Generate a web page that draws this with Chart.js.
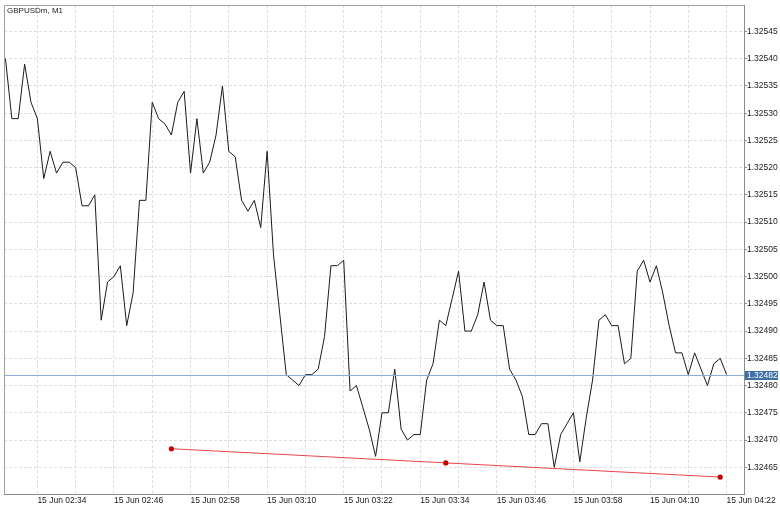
<!DOCTYPE html>
<html>
<head>
<meta charset="utf-8">
<title>GBPUSDm, M1</title>
<script src="https://cdn.jsdelivr.net/npm/chart.js@4.4.1/dist/chart.umd.min.js"></script>
<style>
  html, body { margin: 0; padding: 0; background: #fff; }
  #wrap { position: relative; width: 780px; height: 506px; }
</style>
</head>
<body>
<div id="wrap"><canvas id="chart"></canvas></div>
<script>
// GBPUSDm M1 closes, one per minute starting 15 Jun 02:29
const closes = [
  1.32540, 1.32529, 1.32529, 1.32539, 1.32532, 1.32529, 1.32518, 1.32523, 1.32519, 1.32521,
  1.32521, 1.32520, 1.32513, 1.32513, 1.32515, 1.32492, 1.32499, 1.32500, 1.32502, 1.32491,
  1.32497, 1.32514, 1.32514, 1.32532, 1.32529, 1.32528, 1.32526, 1.32532, 1.32534, 1.32519,
  1.32529, 1.32519, 1.32521, 1.32526, 1.32535, 1.32523, 1.32522, 1.32514, 1.32512, 1.32514,
  1.32509, 1.32523, 1.32504, 1.32493, 1.32482, 1.32481, 1.32480, 1.32482, 1.32482, 1.32483,
  1.32489, 1.32502, 1.32502, 1.32503, 1.32479, 1.32480, 1.32476, 1.32472, 1.32467, 1.32475,
  1.32475, 1.32483, 1.32472, 1.32470, 1.32471, 1.32471, 1.32481, 1.32484, 1.32492, 1.32491,
  1.32496, 1.32501, 1.32490, 1.32490, 1.32493, 1.32499, 1.32492, 1.32491, 1.32491, 1.32483,
  1.32481, 1.32478, 1.32471, 1.32471, 1.32473, 1.32473, 1.32465, 1.32471, 1.32473, 1.32475,
  1.32466, 1.32474, 1.32481, 1.32492, 1.32493, 1.32491, 1.32491, 1.32484, 1.32485, 1.32501,
  1.32503, 1.32499, 1.32502, 1.32497, 1.32491, 1.32486, 1.32486, 1.32482, 1.32486, 1.32483,
  1.32480, 1.32484, 1.32485, 1.32482
];

// trend line drawn over the lows (bar index, price)
const trendBars = [26, 69, 112];
const trendPrices = [1.324684, 1.324658, 1.324632];

const xTickBars = [5, 17, 29, 41, 53, 65, 77, 89, 101, 113];
const xTickLabels = ['15 Jun 02:34', '15 Jun 02:46', '15 Jun 02:58', '15 Jun 03:10', '15 Jun 03:22',
                     '15 Jun 03:34', '15 Jun 03:46', '15 Jun 03:58', '15 Jun 04:10', '15 Jun 04:22'];
const yTickValues = [1.32465, 1.32470, 1.32475, 1.32480, 1.32485, 1.32490, 1.32495, 1.32500,
                     1.32505, 1.32510, 1.32515, 1.32520, 1.32525, 1.32530, 1.32535, 1.32540, 1.32545];

const symbolTitle = 'GBPUSDm, M1';
const lastPrice = closes[closes.length - 1];

const fontFamily = '"Liberation Sans", Arial, sans-serif';

// horizontal current price line, price tag, frame and symbol caption
const overlay = {
    id: 'overlay',
    afterDatasetsDraw(chart) {
        const ctx = chart.ctx;
        const area = chart.chartArea;
        const y = Math.round(chart.scales.y.getPixelForValue(lastPrice)) + 0.5;
        ctx.save();
        ctx.strokeStyle = '#8eacd4';
        ctx.lineWidth = 1;
        ctx.beginPath();
        ctx.moveTo(area.left, y);
        ctx.lineTo(area.right, y);
        ctx.stroke();
        ctx.restore();
    },
    afterDraw(chart) {
        const ctx = chart.ctx;
        const area = chart.chartArea;
        const y = Math.round(chart.scales.y.getPixelForValue(lastPrice));
        ctx.save();
        // frame
        ctx.strokeStyle = '#a0a0a0';
        ctx.lineWidth = 1;
        ctx.beginPath();
        ctx.moveTo(Math.round(area.left) + 0.5, area.bottom);
        ctx.lineTo(Math.round(area.left) + 0.5, Math.round(area.top) + 0.5);
        ctx.lineTo(area.right, Math.round(area.top) + 0.5);
        ctx.stroke();
        // price tag
        ctx.fillStyle = '#3b6fa6';
        ctx.fillRect(area.right + 1, y - 4, 33, 9);
        ctx.fillStyle = '#ffffff';
        ctx.font = '8.5px ' + fontFamily;
        ctx.textBaseline = 'middle';
        ctx.textAlign = 'left';
        ctx.fillText(lastPrice.toFixed(5), area.right + 3, y + 0.5);
        // caption
        ctx.fillStyle = '#222';
        ctx.font = '8px ' + fontFamily;
        ctx.fillText(symbolTitle, area.left + 3, area.top + 6);
        ctx.restore();
    }
};

const ctx = document.getElementById('chart').getContext('2d');
new Chart(ctx, {
    type: 'line',
    data: {
        datasets: [
            {
                label: symbolTitle,
                data: closes.map((c, i) => ({ x: i, y: c })),
                borderColor: '#1a1a1a',
                borderWidth: 1,
                pointRadius: 0,
                tension: 0,
                fill: false
            },
            {
                label: 'trend',
                data: trendBars.map((b, i) => ({ x: b, y: trendPrices[i] })),
                borderColor: '#e8454a',
                borderWidth: 1,
                pointRadius: 2.6,
                pointBackgroundColor: '#c80000',
                pointBorderColor: '#c80000',
                pointBorderWidth: 0,
                tension: 0,
                fill: false
            }
        ]
    },
    options: {
        responsive: true,
        maintainAspectRatio: false,
        animation: false,
        events: [],
        layout: { padding: { left: 3, top: 3, right: 0, bottom: 0 } },
        plugins: {
            legend: { display: false },
            tooltip: { enabled: false },
            title: { display: false }
        },
        scales: {
            x: {
                type: 'linear',
                bounds: 'data',
                min: -0.23,
                max: 115.73,
                afterBuildTicks(scale) {
                    const ticks = [];
                    for (let b = 5; b <= 113; b += 6) ticks.push({ value: b });
                    scale.ticks = ticks;
                },
                afterFit(scale) {
                    scale.height = 11.5;
                    scale.paddingLeft = 0;
                    scale.paddingRight = 0;
                },
                grid: {
                    color: '#dedede',
                    drawTicks: false,
                    lineWidth: 1
                },
                border: { color: '#8c8c8c', dash: [3, 2] },
                ticks: {
                    autoSkip: false,
                    maxRotation: 0,
                    minRotation: 0,
                    align: 'start',
                    padding: 1,
                    color: '#1a1a1a',
                    font: { family: fontFamily, size: 8.5 },
                    callback(value) {
                        const k = xTickBars.indexOf(Math.round(value));
                        return k >= 0 ? xTickLabels[k] : '';
                    }
                }
            },
            y: {
                type: 'linear',
                position: 'right',
                bounds: 'data',
                min: 1.32460,
                max: 1.3254984,
                afterBuildTicks(scale) {
                    scale.ticks = yTickValues.map(v => ({ value: v }));
                },
                afterFit(scale) {
                    scale.width = 36;
                },
                grid: {
                    color: '#dedede',
                    lineWidth: 1,
                    tickLength: 3,
                    tickColor: '#8c8c8c',
                    tickBorderDash: []
                },
                border: { color: '#8c8c8c', dash: [3, 2] },
                ticks: {
                    padding: 0,
                    color: '#1a1a1a',
                    font: { family: fontFamily, size: 8.5 },
                    callback(value) {
                        return Number(value).toFixed(5);
                    }
                }
            }
        }
    },
    plugins: [overlay]
});
</script>
</body>
</html>
